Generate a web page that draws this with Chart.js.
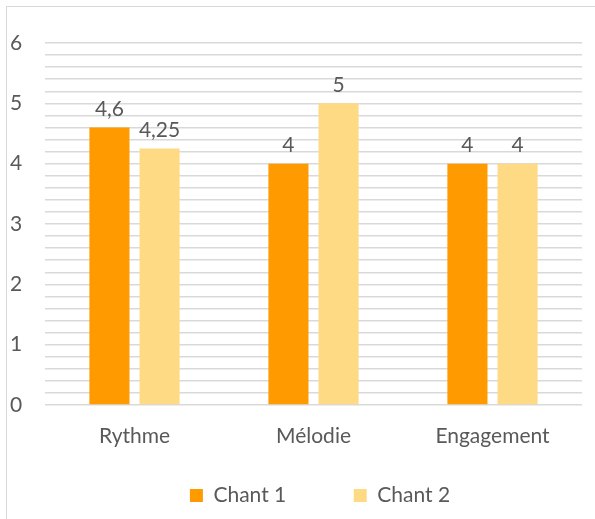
<!DOCTYPE html>
<html>
<head>
<meta charset="utf-8">
<script src="https://cdn.jsdelivr.net/npm/chart.js@4"></script>
<style>
    body { margin: 0; background: #fff; }
    #wrap { position: relative; width: 595px; height: 519px; overflow: hidden; }
    #frame { position: absolute; left: 6px; top: 6px; width: 600px; height: 600px; border: 1px solid #d9d9d9; }
    #chart { position: absolute; left: 0; top: 0; }
</style>
</head>
<body>
<div id="wrap">
    <div id="frame"></div>
    <canvas id="chart" width="595" height="519"></canvas>
</div>
<script>
// ====================================
// Data
// ====================================
var categories = ['Rythme', 'Mélodie', 'Engagement'];
var chant1 = [4.6, 4, 4];
var chant2 = [4.25, 5, 4];
var seriesNames = ['Chant 1', 'Chant 2'];
var yTicks = [0, 1, 2, 3, 4, 5, 6];

var textColor = '#595959';
var fontFamily = 'Lato, "Open Sans", sans-serif';
var fontSize = 21;

// value labels above bars, comma as decimal separator
var barLabels = {
    id: 'barLabels',
    afterLayout: function(chart) {
        // nudge the legend row a bit to the right, like the original
        chart.legend.left += 24;
        chart.legend.right += 24;
    },
    afterDatasetsDraw: function(chart) {
        var ctx = chart.ctx;
        ctx.save();
        ctx.fillStyle = textColor;
        ctx.font = fontSize + 'px ' + fontFamily;
        ctx.textAlign = 'center';
        ctx.textBaseline = 'bottom';
        chart.data.datasets.forEach(function(ds, i) {
            chart.getDatasetMeta(i).data.forEach(function(bar, j) {
                var txt = String(ds.data[j]).replace('.', ',');
                ctx.fillText(txt, bar.x, bar.y - 8);
            });
        });
        ctx.restore();
    }
};

new Chart(document.getElementById('chart'), {
    type: 'bar',
    data: {
        labels: categories,
        datasets: [{
            label: seriesNames[0],
            data: chant1,
            backgroundColor: '#ff9a00',
            categoryPercentage: 0.56,
            barPercentage: 0.8
        }, {
            label: seriesNames[1],
            data: chant2,
            backgroundColor: '#ffda85',
            categoryPercentage: 0.56,
            barPercentage: 0.8
        }]
    },
    options: {
        responsive: false,
        animation: false,
        layout: {
            padding: { left: 10, right: 13, top: 43, bottom: 3 }
        },
        plugins: {
            legend: {
                position: 'bottom',
                labels: {
                    color: textColor,
                    font: { family: fontFamily, size: fontSize },
                    boxWidth: 13,
                    boxHeight: 13,
                    padding: 15,
                    generateLabels: function(chart) {
                        var items = Chart.defaults.plugins.legend.labels.generateLabels(chart);
                        items[0].text += '\u2002\u2002\u2002\u2002\u2002';
                        return items;
                    }
                }
            },
            tooltip: { enabled: false }
        },
        scales: {
            x: {
                grid: { display: false },
                border: { display: false },
                ticks: {
                    color: textColor,
                    font: { family: fontFamily, size: fontSize },
                    padding: 11
                },
                afterFit: function(s) { s.height = 65; }
            },
            y: {
                min: 0,
                max: 6,
                border: { display: false },
                grid: { color: '#d9d9d9', lineWidth: 1.5, drawTicks: false },
                ticks: {
                    stepSize: 0.2,
                    autoSkip: false,
                    color: textColor,
                    crossAlign: 'far',
                    font: { family: fontFamily, size: fontSize },
                    callback: function(v) {
                        var r = Math.round(v);
                        return (Math.abs(v - r) < 1e-6 && yTicks.indexOf(r) >= 0) ? String(r) : '';
                    }
                },
                afterFit: function(s) { s.width = 35; }
            }
        }
    },
    plugins: [barLabels]
});
</script>
</body>
</html>
